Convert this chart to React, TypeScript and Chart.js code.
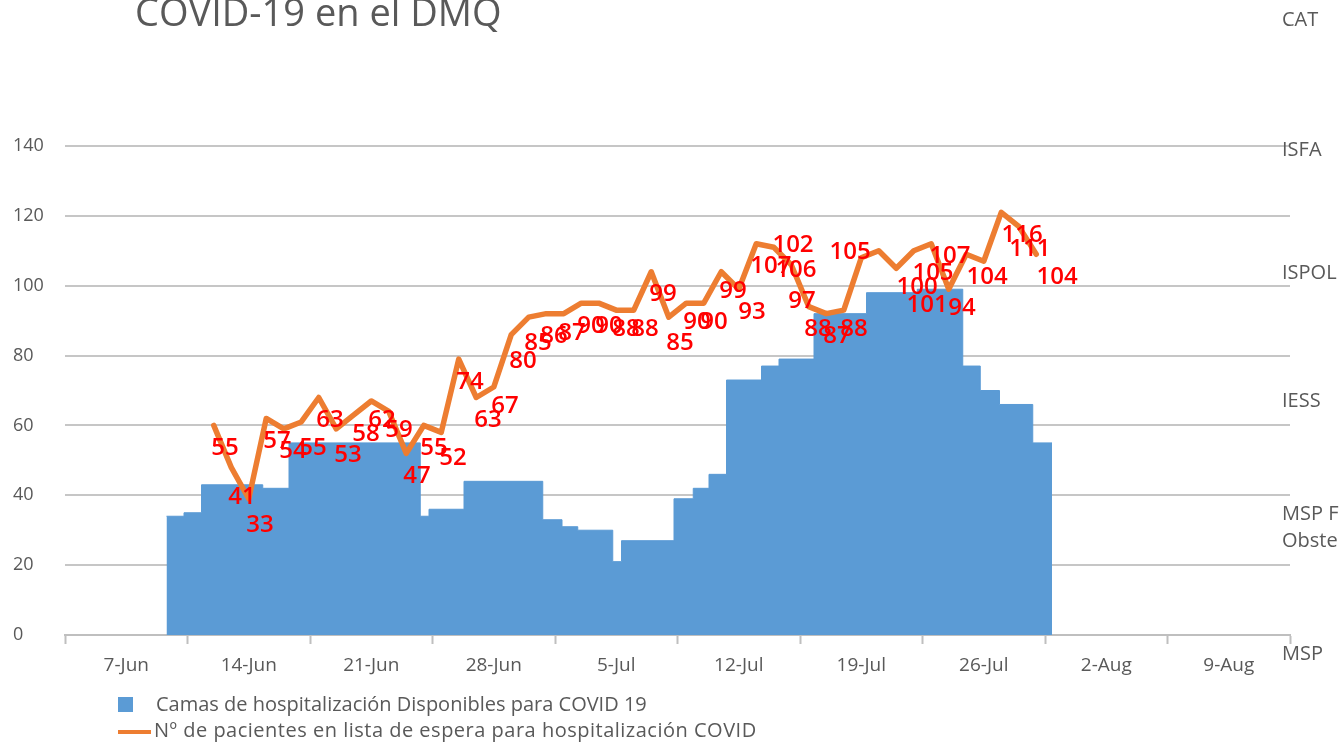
import React, { useEffect, useRef } from 'react';
import { Chart, registerables } from 'chart.js';

Chart.register(...registerables);

const MONTHS = ['Jan', 'Feb', 'Mar', 'Apr', 'May', 'Jun', 'Jul', 'Aug', 'Sep', 'Oct', 'Nov', 'Dec'];
const fmtDay = (d: number) => {
  const dt = new Date(2020, 5, d);
  return `${dt.getDate()}-${MONTHS[dt.getMonth()]}`;
};

// x values: day numbers counted from 1-Jun-2020 (= 1); 31 = 1-Jul
const weekLabelDays = [7, 14, 21, 28, 35, 42, 49, 56, 63, 70];
const weekBoundaryDays = [3.5, 10.5, 17.5, 24.5, 31.5, 38.5, 45.5, 52.5, 59.5, 66.5, 73.5];

// Camas disponibles: start day of each step, last entry = end of last step
const bedStepDays = [9.3, 10.3, 11.3, 14.8, 16.3, 23.8, 24.3, 26.3, 30.8, 31.9, 32.8, 34.8, 35.3, 38.3, 39.4, 40.3, 41.3, 43.3, 44.3, 46.3, 49.3, 52.2, 54.8, 55.8, 56.9, 58.8, 59.9];
const bedValues = [34, 35, 43, 42, 55, 34, 36, 44, 33, 31, 30, 21, 27, 39, 42, 46, 73, 77, 79, 92, 98, 99, 77, 70, 66, 55];

// Pacientes en lista de espera
const waitDays = [12, 13, 14, 15, 16, 17, 18, 19, 20, 21, 22, 23, 24, 25, 26, 27, 28, 29, 30, 31, 32, 33, 34, 35, 36, 37, 38, 39, 40, 41, 42, 43, 44, 45, 46, 47, 48, 49, 50, 51, 52, 53, 54, 55, 56, 57, 58, 59];
const waitValues = [60, 48, 39, 62, 59, 61, 68, 59, 63, 67, 64, 52, 60, 58, 79, 68, 71, 86, 91, 92, 92, 95, 95, 93, 93, 104, 91, 95, 95, 104, 99, 112, 111, 106, 94, 92, 93, 108, 110, 105, 110, 112, 99, 109, 107, 121, 117, 109];

// Red value labels (text, position day, position level)
const labelValues = [55, 41, 33, 57, 54, 55, 63, 53, 58, 62, 59, 47, 55, 52, 74, 63, 67, 80, 85, 86, 87, 90, 90, 88, 88, 99, 85, 90, 90, 99, 93, 107, 102, 106, 97, 88, 87, 105, 88, 100, 101, 105, 107, 94, 104, 116, 111, 104];
const labelDays = [12.64, 13.61, 14.64, 15.61, 16.53, 17.67, 18.64, 19.67, 20.7, 21.61, 22.59, 23.61, 24.59, 25.67, 26.64, 27.67, 28.64, 29.67, 30.53, 31.44, 32.47, 33.56, 34.59, 35.56, 36.64, 37.67, 38.64, 39.61, 40.59, 41.67, 42.76, 43.84, 45.1, 45.27, 45.61, 46.53, 47.61, 48.36, 48.59, 52.19, 52.76, 53.1, 54.07, 54.76, 56.19, 58.19, 58.64, 60.19];
const labelLevels = [54, 40, 32, 56, 53, 54, 62, 52, 58, 62, 59, 46, 54, 51, 73, 62, 66, 79, 84, 86, 87, 89, 89, 88, 88, 98, 84, 90, 90, 99, 93, 106, 112, 105, 96, 88, 86, 110, 88, 100, 95, 104, 109, 94, 103, 115, 111, 103];

const sideLabels = [
  { text: 'CAT', top: 9 },
  { text: 'ISFA', top: 139 },
  { text: 'ISPOL', top: 262 },
  { text: 'IESS', top: 390 },
  { text: 'MSP F', top: 503 },
  { text: 'Obste', top: 530 },
  { text: 'MSP', top: 643 },
];

const FONT = '"Open Sans", "DejaVu Sans", sans-serif';
const GREY = '#595959';
const BLUE = '#5B9BD5';
const ORANGE = '#ED7D31';

const labelPlugin = {
  id: 'redLabels',
  afterDatasetsDraw(chart: any) {
    const { ctx, scales } = chart;
    const x = scales.x;
    const y = scales.y;
    ctx.save();
    ctx.font = `600 24px ${FONT}`;
    ctx.fillStyle = '#FF0000';
    ctx.textAlign = 'center';
    ctx.textBaseline = 'alphabetic';
    labelValues.forEach((v, i) => {
      ctx.fillText(String(v), x.getPixelForValue(labelDays[i]), y.getPixelForValue(labelLevels[i]) + 8.5);
    });
    ctx.restore();
  },
};

export default function App() {
  const canvasRef = useRef<HTMLCanvasElement | null>(null);

  useEffect(() => {
    if (!canvasRef.current) return;
    const bedPoints = bedStepDays.map((d, i) => ({
      x: d,
      y: i < bedValues.length ? bedValues[i] : bedValues[bedValues.length - 1],
    }));
    const waitPoints = waitDays.map((d, i) => ({ x: d, y: waitValues[i] }));
    const tickValues = [...weekBoundaryDays, ...weekLabelDays].sort((a, b) => a - b);

    const chart = new Chart(canvasRef.current, {
      type: 'line',
      data: {
        datasets: [
          {
            label: 'Camas de hospitalización Disponibles para COVID 19',
            data: bedPoints,
            stepped: 'before',
            fill: 'origin',
            backgroundColor: BLUE,
            borderColor: BLUE,
            borderWidth: 1,
            pointRadius: 0,
            order: 2,
          },
          {
            label: 'Nº de pacientes en lista de espera para hospitalización COVID',
            data: waitPoints,
            borderColor: ORANGE,
            borderWidth: 5.5,
            borderJoinStyle: 'round',
            borderCapStyle: 'round',
            pointRadius: 0,
            fill: false,
            tension: 0,
            order: 1,
          },
        ],
      },
      options: {
        animation: false,
        responsive: true,
        maintainAspectRatio: false,
        layout: { padding: { left: 13, top: 146, right: 49, bottom: 0 } },
        plugins: { legend: { display: false }, tooltip: { enabled: false }, title: { display: false } },
        scales: {
          x: {
            type: 'linear',
            min: 3.5,
            max: 73.5,
            afterBuildTicks: (axis: any) => {
              axis.ticks = tickValues.map((v) => ({ value: v }));
            },
            afterFit: (axis: any) => {
              axis.height = 108;
            },
            ticks: {
              autoSkip: false,
              maxRotation: 0,
              padding: 10,
              color: GREY,
              font: { family: FONT, size: 19 },
              callback: (v: any) => (weekLabelDays.includes(Number(v)) ? fmtDay(Number(v)) : ''),
            },
            grid: {
              drawOnChartArea: false,
              drawTicks: true,
              tickLength: 9,
              tickWidth: 2,
              tickColor: (ctx: any) =>
                ctx.tick && weekBoundaryDays.includes(ctx.tick.value) ? '#bfbfbf' : 'rgba(0,0,0,0)',
            },
            border: { display: true, color: '#bfbfbf', width: 2 },
          },
          y: {
            min: 0,
            max: 140,
            afterFit: (axis: any) => {
              axis.width = 52;
            },
            ticks: {
              stepSize: 20,
              crossAlign: 'far',
              color: GREY,
              font: { family: FONT, size: 18 },
            },
            grid: {
              color: (ctx: any) => (ctx.tick && ctx.tick.value === 0 ? 'rgba(0,0,0,0)' : '#c6c6c6'),
              lineWidth: 2,
              drawTicks: false,
            },
            border: { display: false },
          },
        },
      },
      plugins: [labelPlugin],
    });
    return () => chart.destroy();
  }, []);

  const text = (extra: React.CSSProperties): React.CSSProperties => ({
    position: 'absolute',
    fontFamily: FONT,
    color: GREY,
    lineHeight: 1,
    whiteSpace: 'nowrap',
    ...extra,
  });

  return (
    <div style={{ position: 'absolute', left: 0, top: 0, width: 1339, height: 743, overflow: 'hidden', background: '#fff' }}>
      <div style={{ position: 'absolute', left: 0, top: 0, width: 1339, height: 743 }}>
        <canvas ref={canvasRef} />
      </div>
      <div style={text({ left: 135, top: -8, fontSize: 38 })}>COVID-19 en el DMQ</div>
      {sideLabels.map((s) => (
        <div key={s.text + s.top} style={text({ left: 1282, top: s.top, fontSize: 20 })}>
          {s.text}
        </div>
      ))}
      <div style={{ position: 'absolute', left: 118, top: 697, width: 15, height: 15, background: BLUE }} />
      <div style={text({ left: 156, top: 694, fontSize: 20 })}>Camas de hospitalización Disponibles para COVID 19</div>
      <div style={{ position: 'absolute', left: 118, top: 730, width: 33, height: 4, background: ORANGE }} />
      <div style={text({ left: 154, top: 720, fontSize: 20, letterSpacing: '0.5px' })}>
        Nº de pacientes en lista de espera para hospitalización COVID
      </div>
    </div>
  );
}
